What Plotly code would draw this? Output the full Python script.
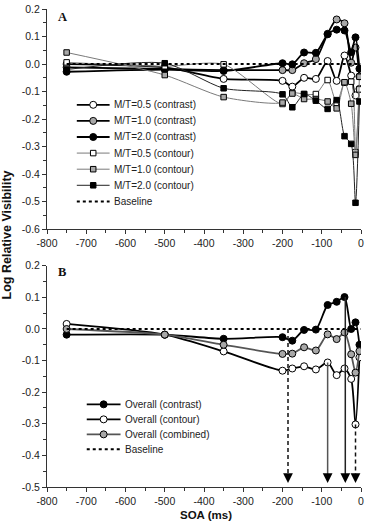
import plotly.graph_objects as go

# ---------------- data ----------------
soa = [-750, -500, -350, -200, -175, -145, -115, -85, -62, -42, -25, -14, -4]

# Panel A: contrast conditions (circles)
contrast_05 = [0.000, -0.012, -0.054, -0.061, -0.082, -0.050, -0.054, 0.011, -0.061, 0.031, -0.042, -0.114, -0.090]
contrast_10 = [-0.012, -0.018, -0.022, -0.022, -0.022, 0.003, 0.018, 0.110, 0.162, 0.148, 0.005, 0.060, -0.045]
contrast_20 = [-0.028, -0.020, -0.025, 0.003, -0.001, 0.042, 0.041, 0.108, 0.125, 0.122, 0.043, 0.097, -0.017]
# Panel A: contour conditions (squares)
contour_05 = [0.006, -0.008, -0.001, -0.145, -0.105, -0.109, -0.109, -0.058, -0.142, -0.068, -0.064, -0.320, -0.092]
contour_10 = [0.042, -0.040, -0.120, -0.140, -0.107, -0.127, -0.127, -0.136, -0.161, -0.066, -0.144, -0.330, -0.046]
contour_20 = [-0.020, 0.003, -0.088, -0.110, -0.157, -0.109, -0.133, -0.163, -0.131, -0.262, -0.290, -0.504, -0.136]

# Panel B: overall
overall_contrast = [-0.018, -0.018, -0.031, -0.026, -0.037, -0.003, -0.002, 0.076, 0.086, 0.101, 0.000, 0.021, -0.050]
overall_contour = [0.016, -0.018, -0.071, -0.132, -0.125, -0.118, -0.128, -0.106, -0.146, -0.125, -0.158, -0.302, -0.090]
overall_combined = [0.000, -0.018, -0.050, -0.079, -0.078, -0.058, -0.068, -0.017, -0.032, -0.011, -0.080, -0.138, -0.070]

baseline_soa = [-750, 0]
baseline_val = [0, 0]

# arrows in panel B
arrow_soa = [-186, -85, -40, -14]
arrow_from = [0.0, -0.106, 0.101, -0.302]
arrow_dash = ["dash", "solid", "solid", "dash"]
arrow_color = ["#111111", "#555555", "#222222", "#111111"]
arrow_floor = -0.487

# axis ticks
x_ticks = [-800, -700, -600, -500, -400, -300, -200, -100, 0]
x_ticklabels = ["-800", "-700", "-600", "-500", "-400", "-300", "-200", "-100", "0"]
ya_ticks = [-0.6, -0.5, -0.4, -0.3, -0.2, -0.1, 0.0, 0.1, 0.2]
ya_ticklabels = ["-0.6", "-0.5", "-0.4", "-0.3", "-0.2", "-0.1", "0.0", "0.1", "0.2"]
yb_ticks = [-0.5, -0.4, -0.3, -0.2, -0.1, 0.0, 0.1, 0.2]
yb_ticklabels = ["-0.5", "-0.4", "-0.3", "-0.2", "-0.1", "0.0", "0.1", "0.2"]

FONT = "Liberation Sans, Arial, sans-serif"
GRAY = "#a8a8a8"

# figure geometry (pixels)
W, H = 367, 522
ML, MR, MT, MB = 47, 4, 3, 35
PW, PH = W - ML - MR, H - MT - MB


def px_x(x):
    return (x - ML) / PW


def px_y(y):
    return (H - MB - y) / PH


fig = go.Figure()

# series style table: (values, name, fill, symbol, size, line colour, line width, panel)
series = [
    (contrast_05, "M/T=0.5 (contrast)", "white", "circle", 7, "black", 1.8, "A"),
    (contrast_10, "M/T=1.0 (contrast)", GRAY, "circle", 7, "black", 1.8, "A"),
    (contrast_20, "M/T=2.0 (contrast)", "black", "circle", 7, "black", 1.8, "A"),
    (contour_05, "M/T=0.5 (contour)", "white", "square", 5.5, "#7a7a7a", 1, "A"),
    (contour_10, "M/T=1.0 (contour)", GRAY, "square", 5.5, "#7a7a7a", 1, "A"),
    (contour_20, "M/T=2.0 (contour)", "black", "square", 5.5, "#222222", 1, "A"),
    (overall_contrast, "Overall (contrast)", "black", "circle", 7, "black", 1.8, "B"),
    (overall_contour, "Overall (contour)", "white", "circle", 7, "black", 1.8, "B"),
    (overall_combined, "Overall (combined)", GRAY, "circle", 7, "#555555", 1.8, "B"),
]

for vals, name, fill, sym, size, lc, lw, panel in series:
    xa, ya = ("x", "y") if panel == "A" else ("x2", "y2")
    fig.add_trace(go.Scatter(
        x=soa, y=vals, name=name, mode="lines+markers", showlegend=False,
        line=dict(color=lc, width=lw, shape="spline", smoothing=0.7),
        marker=dict(symbol=sym, size=size, color=fill, line=dict(color="black", width=1)),
        xaxis=xa, yaxis=ya))

for xa, ya in (("x", "y"), ("x2", "y2")):
    fig.add_trace(go.Scatter(x=baseline_soa, y=baseline_val, name="Baseline", mode="lines",
                             showlegend=False, line=dict(color="black", width=2, dash="3px,3px"),
                             xaxis=xa, yaxis=ya))

# arrows
for s, f, d, c in zip(arrow_soa, arrow_from, arrow_dash, arrow_color):
    fig.add_shape(type="line", xref="x2", yref="y2", x0=s, x1=s, y0=f, y1=arrow_floor + 0.02,
                  line=dict(color=c, width=1.5, dash="4px,3px" if d == "dash" else "solid"))
    fig.add_annotation(xref="x2", yref="y2", x=s, y=arrow_floor, ax=s, ay=arrow_floor + 0.03,
                       axref="x2", ayref="y2", showarrow=True, arrowhead=2, arrowsize=1.3,
                       arrowwidth=1.5, arrowcolor="black", text="")


# ---------------- manual legends ----------------
def legend(entries, x0, x1, y_first, step):
    for i, (name, fill, sym, size, lc, lw) in enumerate(entries):
        yy = px_y(y_first + i * step)
        if sym is None:
            fig.add_shape(type="line", xref="paper", yref="paper", x0=px_x(x0), x1=px_x(x1),
                          y0=yy, y1=yy, line=dict(color="black", width=2, dash="3px,3px"))
        else:
            fig.add_shape(type="line", xref="paper", yref="paper", x0=px_x(x0), x1=px_x(x1),
                          y0=yy, y1=yy, line=dict(color=lc, width=lw))
            h = size / 2
            fig.add_shape(type="circle" if sym == "circle" else "rect", xref="paper", yref="paper",
                          xsizemode="pixel", ysizemode="pixel",
                          xanchor=px_x((x0 + x1) / 2), yanchor=yy,
                          x0=-h, x1=h, y0=-h, y1=h, fillcolor=fill,
                          line=dict(color="black", width=1))
        fig.add_annotation(xref="paper", yref="paper", x=px_x(x1 + 2), y=yy, text=name,
                           showarrow=False, xanchor="left", yanchor="middle",
                           font=dict(family=FONT, size=10, color="#222"))


legend_a = [(s[1], s[2], s[3], s[4], s[5], s[6]) for s in series if s[7] == "A"] + \
           [("Baseline", None, None, 0, "black", 2)]
legend_b = [(s[1], s[2], s[3], s[4], s[5], s[6]) for s in series if s[7] == "B"] + \
           [("Baseline", None, None, 0, "black", 2)]
legend(legend_a, 77, 110, 100, 16.3)
legend(legend_b, 87, 121, 403.3, 15.2)

axis_common = dict(showline=True, linecolor="#333", linewidth=1, ticks="outside", ticklen=4,
                   tickcolor="#333", showgrid=False, zeroline=False,
                   tickfont=dict(family=FONT, size=10.5, color="#222"))

fig.update_layout(
    width=W, height=H,
    margin=dict(l=ML, r=MR, t=MT, b=MB),
    paper_bgcolor="white", plot_bgcolor="white",
    showlegend=False,
    xaxis=dict(domain=[0, 1], anchor="y", range=[-800, 0], tickvals=x_ticks, ticktext=x_ticklabels,
               minor=dict(ticks="outside", dtick=50, ticklen=3, tickcolor="#333"), **axis_common),
    yaxis=dict(domain=[0.5393, 1], anchor="x", range=[-0.6, 0.2], tickvals=ya_ticks, ticktext=ya_ticklabels,
               minor=dict(ticks="outside", dtick=0.05, ticklen=3, tickcolor="#333"), **axis_common),
    xaxis2=dict(domain=[0, 1], anchor="y2", range=[-800, 0], tickvals=x_ticks, ticktext=x_ticklabels,
                minor=dict(ticks="outside", dtick=50, ticklen=3, tickcolor="#333"), **axis_common),
    yaxis2=dict(domain=[0, 0.4628], anchor="x2", range=[-0.5, 0.2], tickvals=yb_ticks, ticktext=yb_ticklabels,
                minor=dict(ticks="outside", dtick=0.05, ticklen=3, tickcolor="#333"), **axis_common),
)

fig.add_annotation(xref="paper", yref="paper", x=px_x(56), y=px_y(2), text="<b>A</b>", showarrow=False,
                   xanchor="left", yanchor="top",
                   font=dict(family="Liberation Serif, Times New Roman, serif", size=12.5, color="#111"))
fig.add_annotation(xref="paper", yref="paper", x=px_x(56), y=px_y(260), text="<b>B</b>", showarrow=False,
                   xanchor="left", yanchor="top",
                   font=dict(family="Liberation Serif, Times New Roman, serif", size=12.5, color="#111"))
fig.add_annotation(xref="paper", yref="paper", x=px_x(7), y=px_y(232), text="<b>Log Relative Visibility</b>",
                   textangle=-90, showarrow=False, xanchor="center", yanchor="middle",
                   font=dict(family=FONT, size=12.5, color="#111"))
fig.add_annotation(xref="paper", yref="paper", x=px_x(207), y=px_y(522), text="<b>SOA (ms)</b>",
                   showarrow=False, xanchor="center", yanchor="bottom", borderpad=0,
                   font=dict(family=FONT, size=11.5, color="#111"))

fig.write_html("out.html")
